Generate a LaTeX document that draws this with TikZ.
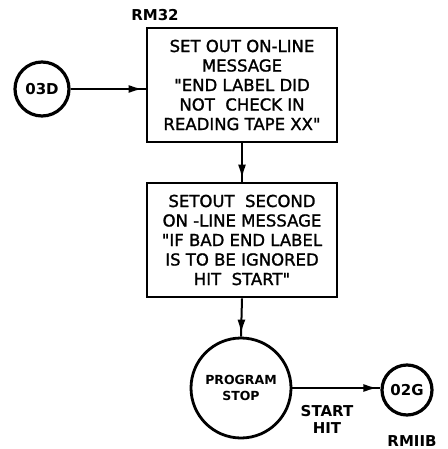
\documentclass[tikz,border=0pt]{standalone}
\usepackage{fontspec}
\setmainfont{DejaVu Sans}
% lettering font without TeX quote mapping, so " stays a straight double tick
\newfontfamily\letterfont[FakeBold=1.4]{DejaVu Sans}
\usetikzlibrary{arrows.meta,decorations.markings}

\tikzset{
  msgbox/.style={draw, line width=2.8pt, minimum width=190pt, minimum height=114pt,
    inner sep=0pt, align=center, font=\letterfont\fontsize{16.5}{19.5}\selectfont},
  connector/.style={draw, circle, line width=3.2pt, minimum size=#1, inner sep=0pt,
    font=\bfseries\fontsize{15}{17}\selectfont},
  tag/.style={font=\bfseries\fontsize{15}{17}\selectfont, align=center, inner sep=0pt},
  flow/.style={line width=2pt, postaction={decorate},
    decoration={markings, mark=at position -3pt with {\arrow{Latex[length=14pt,width=8pt]}}}}
}

\begin{document}
\begin{tikzpicture}[x=1pt,y=-1pt]
  \useasboundingbox (0,0) rectangle (447,449);

  % off-page connector and reference tag
  \node[connector=54pt] (c03d) at (42,89) {03D};
  \node[tag] (rm32) at (155,15) {RM32};

  % message boxes
  \node[msgbox] (b1) at (242,85)
    {SET OUT ON-LINE\\MESSAGE\\"END LABEL DID\\NOT\ \ CHECK IN\\READING TAPE XX"};
  \node[msgbox] (b2) at (242,240)
    {SETOUT\ \ SECOND\\ON -LINE MESSAGE\\"IF BAD END LABEL\\IS TO BE IGNORED\\HIT\ \ START"};

  % stop and exit connector
  \node[draw, circle, line width=2.8pt, minimum size=100pt, inner sep=0pt, align=center,
        font=\bfseries\fontsize{12.5}{16}\selectfont] (stop) at (241,388) {PROGRAM\\STOP};
  \node[connector=50pt] (c02g) at (407,390) {02G};
  \node[tag] (hit) at (327,419) {START\\HIT};
  \node[tag] (rm118) at (412,441) {RMIIB};

  % flow lines
  \draw[flow] (c03d.east) -- (c03d.east -| b1.west);
  \draw[flow] (b1.south) -- (b2.north);
  \draw[flow] (b2.south) -- (stop.north);
  \draw[flow] (stop.east) -- (stop.east -| c02g.west);
\end{tikzpicture}
\end{document}
